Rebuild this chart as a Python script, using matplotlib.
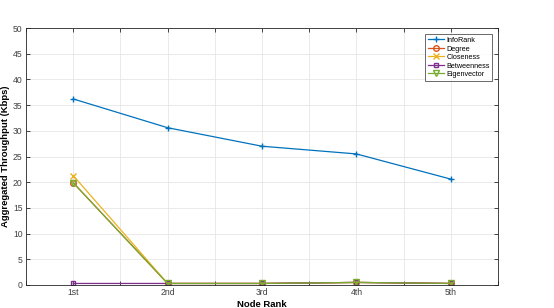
import numpy as np
import matplotlib
matplotlib.use('Agg')
import matplotlib.pyplot as plt
from matplotlib.ticker import MultipleLocator

plt.rcParams['font.family'] = ['Liberation Sans', 'DejaVu Sans']

ranks = ['1st', '2nd', '3rd', '4th', '5th']
infoRank = [36.2, 30.6, 27.0, 25.5, 20.6]
degree = [19.9, 0.3, 0.3, 0.5, 0.3]
closeness = [21.3, 0.3, 0.3, 0.5, 0.3]
betweenness = [0.3, 0.3, 0.3, 0.5, 0.3]
eigenvector = [19.9, 0.3, 0.3, 0.5, 0.3]

#matlab default colours
colors = ['#0072BD', '#D95319', '#EDB120', '#7E2F8E', '#77AC30']

fig = plt.figure(figsize=(5.54, 3.08), dpi=100)
ax = fig.add_axes([26/554, 1 - 285/308, 472/554, 257/308])

x = np.arange(1, len(ranks) + 1)
ax.plot(x, infoRank, color=colors[0], marker='+', ms=5, lw=0.9, label='InfoRank')
ax.plot(x, degree, color=colors[1], marker='o', ms=4, mfc='none', lw=0.9, label='Degree')
ax.plot(x, closeness, color=colors[2], marker='x', ms=4, lw=0.9, label='Closeness')
ax.plot(x, betweenness, color=colors[3], marker='s', ms=3.5, mfc='none', lw=0.9, label='Betweenness')
ax.plot(x, eigenvector, color=colors[4], marker='v', ms=4, mfc='none', lw=0.9, label='Eigenvector')

ax.set_xlim(0.5, 5.5)
ax.set_ylim(0, 50)
ticks = np.arange(0.5, 5.51, 0.5)
ax.set_xticks(ticks)
ax.set_xticklabels(['' if v % 1 else ranks[int(v) - 1] for v in ticks])
ax.yaxis.set_major_locator(MultipleLocator(5))
ax.grid(True, color='#e6e6e6', lw=0.6)
ax.set_axisbelow(True)
ax.tick_params(direction='in', length=3, width=0.6, labelsize=6.2, colors='#262626',
               labelcolor='#404040', top=True, right=True, pad=2.5)
for s in ax.spines.values():
    s.set_color('#262626')
    s.set_linewidth(0.6)

ax.set_xlabel('Node Rank', fontsize=6.8, fontweight='bold', labelpad=1.5)
ax.set_ylabel('Aggregated Throughput (Kbps)', fontsize=6.8, fontweight='bold', labelpad=2)

leg = ax.legend(loc='upper right', fontsize=5.2, fancybox=False, edgecolor='#262626',
                bbox_to_anchor=(0.988, 0.975), handlelength=2.2, labelspacing=0.2,
                borderpad=0.35, handletextpad=0.4, borderaxespad=0)
leg.get_frame().set_linewidth(0.6)

plt.savefig('out.png', dpi=100)
